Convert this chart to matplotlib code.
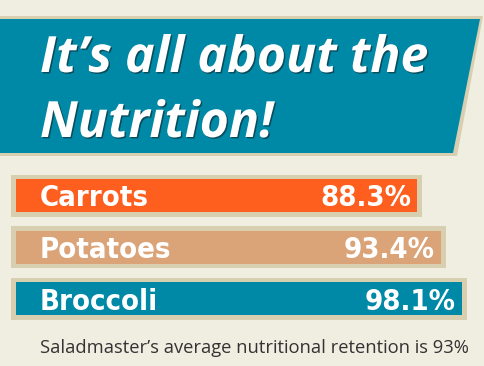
import matplotlib
matplotlib.use("Agg")
import matplotlib.pyplot as plt
import matplotlib.patheffects as pe
from matplotlib.patches import Polygon

# data
foods = ["Carrots", "Potatoes", "Broccoli"]
retention = [88.3, 93.4, 98.1]
bar_colors = ["#fe5f1e", "#dba378", "#0089a6"]
title_lines = ["It\u2019s all about the", "Nutrition!"]
footer = "Saladmaster\u2019s average nutritional retention is 93%"

bg = "#f0ede1"
frame = "#d8ceb0"
teal = "#0089a6"

W, H = 484, 366
fig = plt.figure(figsize=(W / 100, H / 100), dpi=100, facecolor=bg)

# decoration layer in pixel coords
deco = fig.add_axes([0, 0, 1, 1])
deco.set_xlim(0, W)
deco.set_ylim(H, 0)
deco.axis("off")

deco.add_patch(Polygon([(0, 16), (483, 16), (457, 156), (0, 156)], closed=True,
                       facecolor=frame, edgecolor="none"))
deco.add_patch(Polygon([(0, 19), (480, 19), (453, 153), (0, 153)], closed=True,
                       facecolor=teal, edgecolor="none"))

shadow = [pe.withSimplePatchShadow(offset=(1, -1), shadow_rgbFace="#0d3d48", alpha=0.8)]
for i, line in enumerate(title_lines):
    deco.text(40, 72 + 65 * i, line, color="white", fontsize=36, family=["Open Sans", "DejaVu Sans"],
              weight="bold", style="italic", va="baseline", ha="left", path_effects=shadow)

deco.text(40, 353, footer, color="#333333", fontsize=13.2, family=["Open Sans", "DejaVu Sans"],
          va="baseline", ha="left")

# bars layer: data 0 at px 16, 4.545 px per unit; rows centred at 195.5 px, 51.5 px apart
pxu = 4.545
row = 51.5
ax = fig.add_axes([0, 0, 1, 1])
ax.patch.set_alpha(0)
ax.set_xlim(-16 / pxu, (W - 16) / pxu)
ax.set_ylim((H - 195.5) / row, -195.5 / row)
ax.axis("off")

pos = list(range(len(foods)))
pad = 5 / pxu
ax.barh(pos, [v + 2 * pad for v in retention], left=-pad, height=42 / row, color=frame)
ax.barh(pos, retention, height=33 / row, color=bar_colors)

for p, name, v in zip(pos, foods, retention):
    ax.text(24 / pxu, p + 11 / row, name, color="white", fontsize=21, weight="bold",
            family="DejaVu Sans", stretch="condensed", va="baseline", ha="left")
    ax.text(v - 6 / pxu, p + 11 / row, f"{v:.1f}%", color="white", fontsize=21, weight="bold",
            family="DejaVu Sans", stretch="condensed", va="baseline", ha="right")

fig.savefig("out.png", dpi=100, facecolor=bg)
